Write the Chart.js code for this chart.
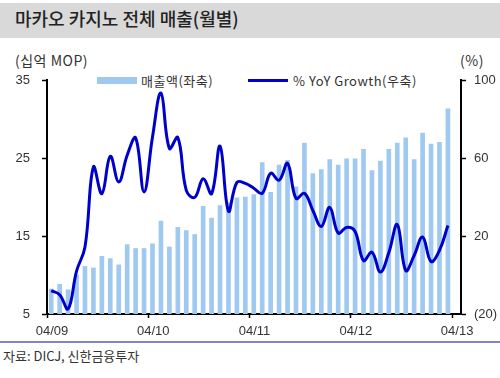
<!DOCTYPE html>
<html>
<head>
<meta charset="utf-8">
<script src="https://cdn.jsdelivr.net/npm/chart.js@4/dist/chart.umd.min.js"></script>
<style>
  body { margin: 0; background: #fff; }
  #wrap { position: relative; width: 500px; height: 378px; overflow: hidden; font-family: "Noto Sans CJK KR", "Liberation Sans", sans-serif; color: #333; }
  #titleBar { position: absolute; left: 0; top: 3px; width: 500px; height: 35px; background: #d9d9d9; }
  #title { position: absolute; left: 15px; top: 8px; font-size: 18px; font-weight: 500; color: #222; line-height: 21px; }
  .unit { position: absolute; top: 52px; font-size: 14px; line-height: 16px; letter-spacing: 0.5px; }
  .lg { position: absolute; font-size: 13px; line-height: 14px; letter-spacing: 0.5px; top: 74px; }
  .sw { position: absolute; }
  #sep { position: absolute; left: 0; top: 341px; width: 500px; height: 2px; background: #8585c6; }
  #src { position: absolute; left: 3px; top: 348px; font-size: 13px; line-height: 16px; }
  canvas { position: absolute; left: 0; top: 0; }
</style>
</head>
<body>
<div id="wrap">
  <div id="titleBar"></div>
  <div id="title">마카오 카지노 전체 매출(월별)</div>
  <div class="unit" style="left:15px;">(십억 MOP)</div>
  <div class="unit" style="left:460px;">(%)</div>
  <div class="sw" style="left:97px; top:77px; width:40px; height:7px; background:#9fc9f0;"></div>
  <div class="lg" style="left:141px;">매출액(좌축)</div>
  <div class="sw" style="left:248px; top:79px; width:40px; height:3px; background:#0000cc;"></div>
  <div class="lg" style="left:293px;">% YoY Growth(우축)</div>
  <div id="sep"></div>
  <div id="src">자료: DICJ, 신한금융투자</div>
  <canvas id="chart" width="500" height="378"></canvas>
</div>
<script>
// 월별 매출액 (십억 MOP), 2009.04 ~ 2013.03
var revenue = [
  8.2, 8.8, 8.1, 10.0, 11.1, 10.9, 12.4, 12.1, 11.3, 13.9, 13.4, 13.4,
  14.0, 16.9, 13.6, 16.1, 15.7, 15.2, 18.8, 17.3, 18.9, 19.3, 19.9, 20.0,
  20.3, 24.4, 20.6, 24.1, 24.7, 21.3, 26.9, 23.0, 23.5, 24.8, 24.1, 24.9,
  24.9, 26.1, 23.4, 24.6, 26.1, 26.9, 27.6, 24.8, 28.2, 26.8, 27.0, 31.3
];
// 전년 대비 증가율 (%)
var yoyGrowth = [
  -8.0, -10.1, -17.4, 2.0, 14.3, 55.4, 41.7, 60.9, 47.7, 61.4, 70.3, 42.6,
  70.8, 93.3, 64.9, 70.5, 43.4, 39.8, 49.4, 41.7, 66.1, 32.8, 47.5, 47.0,
  44.5, 41.9, 52.2, 48.6, 57.3, 39.3, 41.9, 33.1, 24.9, 34.7, 21.5, 24.4,
  22.3, 7.4, 11.7, 1.5, 11.5, 25.9, 2.3, 10.0, 19.5, 6.9, 12.6, 25.4
];
var xTickLabels = ['04/09', '04/10', '04/11', '04/12', '04/13'];
var leftTicks = [5, 15, 25, 35];
var rightTicks = [-20, 20, 60, 100];

var barColor = '#9fc9f0';
var lineColor = '#0000cc';
var tickFont = { family: 'Liberation Sans, Arial, sans-serif', size: 13 };

function toPoints(arr) {
  return arr.map(function(v, i) { return { x: i, y: v }; });
}

new Chart(document.getElementById('chart'), {
  data: {
    datasets: [
      {
        type: 'line',
        label: '% YoY Growth(우축)',
        data: toPoints(yoyGrowth),
        yAxisID: 'yR',
        borderColor: lineColor,
        borderWidth: 3,
        pointRadius: 0,
        tension: 0.4,
        order: 0
      },
      {
        type: 'bar',
        label: '매출액(좌축)',
        data: toPoints(revenue),
        yAxisID: 'yL',
        backgroundColor: barColor,
        barThickness: 4,
        order: 1
      }
    ]
  },
  options: {
    responsive: false,
    animation: false,
    layout: { padding: { top: 80, left: 0, right: 0, bottom: 0 } },
    plugins: { legend: { display: false }, tooltip: { enabled: false } },
    scales: {
      x: {
        type: 'linear',
        offset: false,
        min: -0.5,
        max: 48.55,
        afterBuildTicks: function(scale) {
          // 연 단위 눈금 (범주 경계)
          scale.ticks = xTickLabels.map(function(_, k) { return { value: k * 12 - 0.5 }; });
        },
        afterFit: function(scale) { scale.height = 64; },
        ticks: {
          autoSkip: false,
          maxRotation: 0,
          padding: 6,
          labelOffset: 5,
          color: '#333',
          font: tickFont,
          callback: function(v, idx) { return xTickLabels[idx]; }
        },
        grid: { offset: false, drawOnChartArea: false, tickLength: 4, tickColor: '#000', tickWidth: 1.5 },
        border: { color: '#000', width: 2 }
      },
      yL: {
        position: 'left',
        min: 5,
        max: 35,
        afterBuildTicks: function(scale) {
          scale.ticks = leftTicks.map(function(v) { return { value: v }; });
        },
        afterFit: function(scale) { scale.width = 47; },
        ticks: { padding: 12, color: '#333', font: tickFont },
        grid: { drawOnChartArea: false, tickLength: 5, tickColor: '#000', tickWidth: 1.5 },
        border: { color: '#000', width: 2 }
      },
      yR: {
        position: 'right',
        min: -20,
        max: 100,
        afterBuildTicks: function(scale) {
          scale.ticks = rightTicks.map(function(v) { return { value: v }; });
        },
        afterFit: function(scale) { scale.width = 39; },
        ticks: {
          padding: 8,
          color: '#333',
          font: tickFont,
          callback: function(v) { return v < 0 ? '(' + Math.abs(v) + ')' : v; }
        },
        grid: { drawOnChartArea: false, tickLength: 5, tickColor: '#000', tickWidth: 1.5 },
        border: { color: '#000', width: 2 }
      }
    }
  }
});
</script>
</body>
</html>
